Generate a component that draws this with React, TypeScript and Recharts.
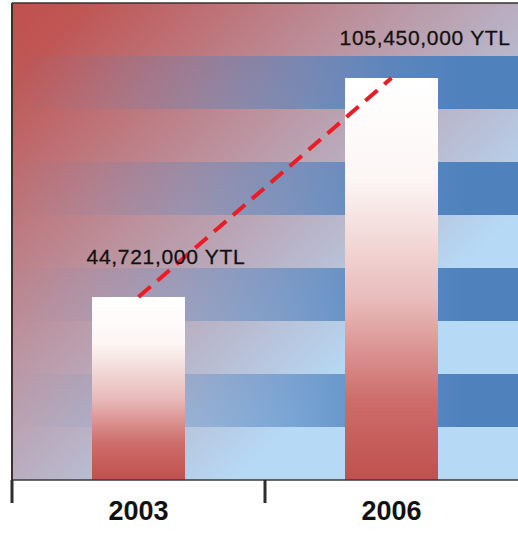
import React from 'react';
import {
  ComposedChart,
  Bar,
  Line,
  XAxis,
  YAxis,
  CartesianGrid,
  LabelList,
} from 'recharts';

// ---- data ----
const years: string[] = ['2003', '2006'];
const budgets: number[] = [44721000, 105450000];
const unit = 'YTL';

// background: number of horizontal bands and their colours
const stripeCount = 9;
const lightBlue = '#b6d9f5';
const darkBlue = '#4f81bd';
const red = '#c0504d';

const data = years.map((year, i) => ({ year, value: budgets[i] }));

const FONT = '"Liberation Sans", Arial, Helvetica, sans-serif';

const stripeLines = ({ offset }: any) =>
  Array.from({ length: stripeCount }, (_, i) => offset.top + (offset.height * i) / stripeCount);

const overlayLines = ({ offset }: any) => [offset.top];

const YearTick = (props: any) => {
  const { x, y, payload } = props;
  const half = payload && typeof payload.offset === 'number' ? payload.offset : 0;
  return (
    <g>
      <line
        x1={x - half}
        x2={x - half}
        y1={y}
        y2={y + 23}
        stroke="#2e2e2e"
        strokeWidth={3}
      />
      <text
        x={x}
        y={y + 40}
        textAnchor="middle"
        fontSize={27}
        fontWeight="bold"
        fontFamily={FONT}
        fill="#111111"
      >
        {payload.value}
      </text>
    </g>
  );
};

const ValueLabel = (props: any) => {
  const { x, y, width, value } = props;
  return (
    <text
      x={x + width / 2 - 52}
      y={y - 33}
      textAnchor="start"
      fontSize={21}
      letterSpacing={0.7}
      fontFamily={FONT}
      fill="#111111"
      stroke="#111111"
      strokeWidth={0.3}
    >
      {`${Number(value).toLocaleString('en-US')} ${unit}`}
    </text>
  );
};

export default function App() {
  return (
    <div style={{ position: 'absolute', left: 0, top: 0, width: 518, height: 536 }}>
      <ComposedChart
        width={518}
        height={536}
        data={data}
        margin={{ top: 2, right: 0, bottom: 55, left: 11 }}
      >
        <defs>
          <linearGradient id="redFade" x1="0" y1="0" x2="1" y2="1">
            <stop offset="0" stopColor={red} stopOpacity={1} />
            <stop offset="0.08" stopColor={red} stopOpacity={0.95} />
            <stop offset="0.36" stopColor={red} stopOpacity={0.52} />
            <stop offset="0.72" stopColor={red} stopOpacity={0} />
            <stop offset="1" stopColor={red} stopOpacity={0} />
          </linearGradient>
          <linearGradient id="darkFade" x1="0" y1="0" x2="1" y2="0">
            <stop offset="0" stopColor={darkBlue} stopOpacity={0} />
            <stop offset="0.15" stopColor={darkBlue} stopOpacity={0.1} />
            <stop offset="0.35" stopColor={darkBlue} stopOpacity={0.3} />
            <stop offset="0.55" stopColor={darkBlue} stopOpacity={0.58} />
            <stop offset="0.75" stopColor={darkBlue} stopOpacity={0.88} />
            <stop offset="0.9" stopColor={darkBlue} stopOpacity={1} />
            <stop offset="1" stopColor={darkBlue} stopOpacity={1} />
          </linearGradient>
          <linearGradient id="barFill" x1="0" y1="0" x2="0" y2="1">
            <stop offset="0" stopColor="#ffffff" />
            <stop offset="0.25" stopColor="#fcf6f4" />
            <stop offset="0.55" stopColor="#e8bcbb" />
            <stop offset="0.8" stopColor="#cd6d6b" />
            <stop offset="1" stopColor={red} />
          </linearGradient>
        </defs>

        <CartesianGrid
          vertical={false}
          stroke="none"
          horizontalFill={[lightBlue]}
          fillOpacity={1}
          horizontalCoordinatesGenerator={overlayLines}
        />
        <CartesianGrid
          vertical={false}
          stroke="none"
          horizontalFill={['url(#redFade)']}
          fillOpacity={1}
          horizontalCoordinatesGenerator={overlayLines}
        />
        <CartesianGrid
          vertical={false}
          stroke="none"
          horizontalFill={['none', 'url(#darkFade)']}
          fillOpacity={1}
          horizontalCoordinatesGenerator={stripeLines}
        />

        <XAxis
          dataKey="year"
          type="category"
          height={1}
          tickLine={false}
          tickSize={0}
          tickMargin={0}
          axisLine={{ stroke: '#3a3a3a', strokeWidth: 1.5 }}
          tick={<YearTick />}
          interval={0}
        />
        <XAxis
          xAxisId="top"
          dataKey="year"
          orientation="top"
          height={1}
          tick={false}
          tickLine={false}
          axisLine={{ stroke: '#3a3030', strokeWidth: 1.5 }}
        />
        <YAxis
          scale="log"
          domain={[21840000, 141500000]}
          allowDataOverflow
          width={1}
          tick={false}
          tickLine={false}
          axisLine={{ stroke: '#3a3030', strokeWidth: 2 }}
        />

        <Bar dataKey="value" barSize={93} fill="url(#barFill)" isAnimationActive={false}>
          <LabelList dataKey="value" content={<ValueLabel />} />
        </Bar>
        <Line
          type="linear"
          dataKey="value"
          stroke="#ec1c24"
          strokeWidth={4}
          strokeDasharray="16 9"
          dot={false}
          activeDot={false}
          isAnimationActive={false}
        />
      </ComposedChart>
    </div>
  );
}
